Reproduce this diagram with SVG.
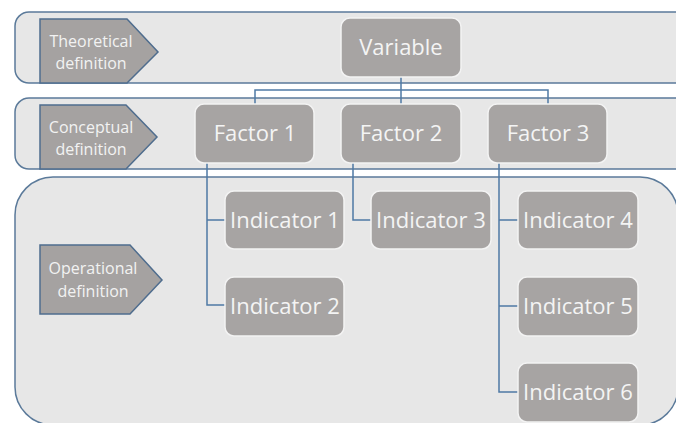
<svg xmlns="http://www.w3.org/2000/svg" width="676" height="423" viewBox="0 0 676 423">
<style>
.band{fill:#e7e7e7;stroke:#5b7a9a;stroke-width:1.5}
.pent{fill:#a5a2a1;stroke:#4f6d8e;stroke-width:1.5}
.plbl{font-family:"Open Sans","Liberation Sans",sans-serif;font-size:16px;fill:#f2f2f2;text-anchor:middle}
.box{fill:#a7a4a3;stroke:#f3f3f3;stroke-width:1.5}
.lbl{font-family:"Open Sans","Liberation Sans",sans-serif;font-size:22px;fill:#f4f4f4;text-anchor:middle}
.conn{fill:none;stroke:#4f7aa5;stroke-width:1.5}
</style>
<rect width="676" height="423" fill="#ffffff"/>
<g id="bands">
<rect class="band" x="15" y="12" width="700" height="71" rx="14"/>
<rect class="band" x="15" y="98" width="700" height="71" rx="14"/>
<rect class="band" x="15" y="177" width="663" height="248" rx="38"/>
</g>
<g id="theoretical">
<polygon class="pent" points="40,19 127,19 158,52 127,83 40,83"/>
<text class="plbl" x="91" y="47">Theoretical</text>
<text class="plbl" x="91" y="69">definition</text>
</g>
<g id="conceptual">
<polygon class="pent" points="40,105 126,105 157,137 126,169 40,169"/>
<text class="plbl" x="91" y="133">Conceptual</text>
<text class="plbl" x="91" y="155">definition</text>
</g>
<g id="operational">
<polygon class="pent" points="40,245 130,245 162,280 130,314 40,314"/>
<text class="plbl" x="93" y="274">Operational</text>
<text class="plbl" x="93" y="297">definition</text>
</g>
<g id="connectors">
<path class="conn" d="M401,77 V104 M255,104 V90 H548 V104"/>
<path class="conn" d="M207,163 V305 H225 M207,220 H225"/>
<path class="conn" d="M353,163 V220 H371"/>
<path class="conn" d="M499,163 V392 H518 M499,220 H518 M499,306 H518"/>
</g>
<g id="variable">
<rect class="box" x="341" y="18" width="120" height="59" rx="9"/>
<text class="lbl" x="401" y="55">Variable</text>
</g>
<g id="factor1">
<rect class="box" x="195" y="104" width="119" height="59" rx="9"/>
<text class="lbl" x="255" y="141">Factor 1</text>
</g>
<g id="factor2">
<rect class="box" x="341" y="104" width="120" height="59" rx="9"/>
<text class="lbl" x="401" y="141">Factor 2</text>
</g>
<g id="factor3">
<rect class="box" x="488" y="104" width="119" height="59" rx="9"/>
<text class="lbl" x="548" y="141">Factor 3</text>
</g>
<g id="indicator1">
<rect class="box" x="225" y="191" width="119" height="58" rx="9"/>
<text class="lbl" x="285" y="228">Indicator 1</text>
</g>
<g id="indicator2">
<rect class="box" x="225" y="277" width="119" height="59" rx="9"/>
<text class="lbl" x="285" y="314">Indicator 2</text>
</g>
<g id="indicator3">
<rect class="box" x="371" y="191" width="120" height="58" rx="9"/>
<text class="lbl" x="431" y="228">Indicator 3</text>
</g>
<g id="indicator4">
<rect class="box" x="518" y="191" width="120" height="58" rx="9"/>
<text class="lbl" x="578" y="228">Indicator 4</text>
</g>
<g id="indicator5">
<rect class="box" x="518" y="277" width="120" height="59" rx="9"/>
<text class="lbl" x="578" y="314">Indicator 5</text>
</g>
<g id="indicator6">
<rect class="box" x="518" y="363" width="120" height="59" rx="9"/>
<text class="lbl" x="578" y="400">Indicator 6</text>
</g>
</svg>
